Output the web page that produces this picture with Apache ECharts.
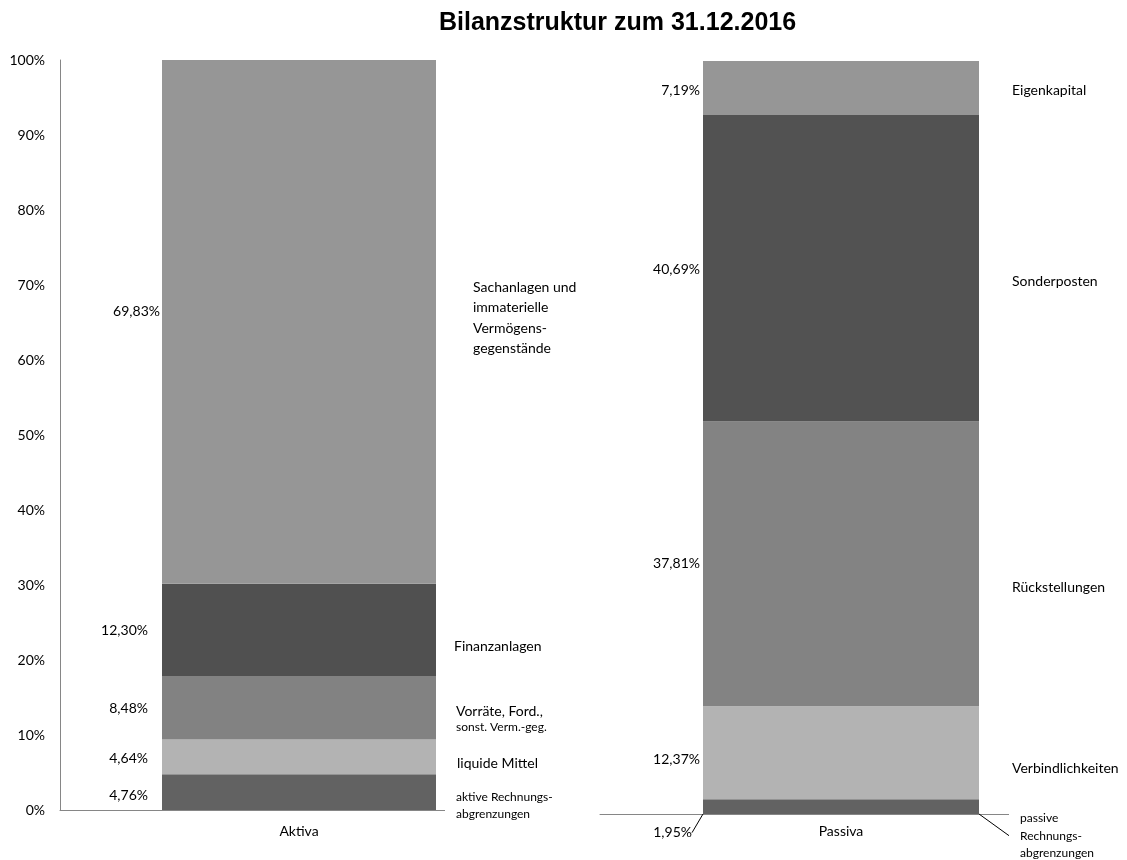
<!DOCTYPE html>
<html>
<head>
<meta charset="utf-8">
<title>Bilanzstruktur</title>
<script src="https://cdn.jsdelivr.net/npm/echarts@6/dist/echarts.min.js"></script>
<style>
  html, body { margin: 0; padding: 0; background: #fff; }
  #chart { width: 1127px; height: 860px; }
</style>
</head>
<body>
<div id="chart"></div>
<script>
// Werte von unten nach oben gestapelt
var aktivaCategory = ['Aktiva'];
var aktivaNames = ['aktive Rechnungs-\nabgrenzungen', 'liquide Mittel', 'Vorräte, Ford.,\nsonst. Verm.-geg.', 'Finanzanlagen', 'Sachanlagen und\nimmaterielle\nVermögens-\ngegenstände'];
var aktivaValues = [4.76, 4.64, 8.48, 12.30, 69.83];

var passivaCategory = ['Passiva'];
var passivaNames = ['passive\nRechnungs-\nabgrenzungen', 'Verbindlichkeiten', 'Rückstellungen', 'Sonderposten', 'Eigenkapital'];
var passivaValues = [1.95, 12.37, 37.81, 40.69, 7.19];

var yTicks = [0, 10, 20, 30, 40, 50, 60, 70, 80, 90, 100];

var aktivaColors = ['#626262', '#b3b3b3', '#828282', '#505050', '#969696'];
var passivaColors = ['#626262', '#b3b3b3', '#838383', '#525252', '#969696'];

var font = 'Lato';
var aktivaBarWidth = 274;
var passivaBarWidth = 276;

function pct(v) {
  return v.toFixed(2).replace('.', ',') + '%';
}

// Offsets der Beschriftungen [dx, dy]
var aktivaValOffset = [[0, 3], [0, 2], [0, 1], [0, 1], [12, -10]];
var aktivaNameOffset = [[0, 13], [1, 7], [0, 11], [-2, 17], [17, -4]];
var passivaValOffset = [[0, 0], [0, 7], [0, 0], [0, 1], [0, 2]];
var passivaNameOffset = [[0, 0], [0, 16], [0, 24], [0, 13], [0, 2]];

var series = [];

aktivaValues.forEach(function (v, i) {
  series.push({
    name: aktivaNames[i],
    type: 'bar',
    stack: 'aktiva',
    xAxisIndex: 0,
    yAxisIndex: 0,
    barWidth: aktivaBarWidth,
    data: [v],
    itemStyle: { color: aktivaColors[i] },
    label: {
      show: true,
      position: 'left',
      distance: 14,
      offset: aktivaValOffset[i],
      formatter: function (p) { return pct(p.value); },
      color: '#000',
      fontFamily: font,
      fontSize: 14
    }
  });
  var small = (i === 0);
  series.push({
    name: aktivaNames[i] + ' (Text)',
    type: 'bar',
    stack: 'aktivaText',
    xAxisIndex: 1,
    yAxisIndex: 0,
    barWidth: aktivaBarWidth,
    data: [v],
    itemStyle: { color: 'rgba(0,0,0,0)' },
    z: 5,
    label: {
      show: true,
      position: 'right',
      distance: small ? 9 : 20,
      offset: aktivaNameOffset[i],
      formatter: i === 2 ? '{a|Vorräte, Ford.,}\n{b|sonst. Verm.-geg.}' : aktivaNames[i],
      color: '#000',
      fontFamily: font,
      fontSize: small ? 12 : 14,
      lineHeight: small ? 17 : 20.5,
      backgroundColor: small ? '#fff' : 'transparent',
      padding: small ? [2, 40, 2, 11] : 0,
      rich: {
        a: { fontFamily: font, fontSize: 14, lineHeight: 17 },
        b: { fontFamily: font, fontSize: 12, lineHeight: 15 }
      }
    }
  });
});

passivaValues.forEach(function (v, i) {
  var first = (i === 0);
  series.push({
    name: passivaNames[i],
    type: 'bar',
    stack: 'passiva',
    xAxisIndex: 2,
    yAxisIndex: 1,
    barWidth: passivaBarWidth,
    data: [v],
    itemStyle: { color: passivaColors[i] },
    label: {
      show: true,
      position: 'left',
      distance: 3,
      offset: passivaValOffset[i],
      formatter: function (p) { return pct(p.value); },
      color: '#000',
      fontFamily: font,
      fontSize: 14
    },
    // kleinster Wert: unter den Balken geschoben, mit Hinweislinie
    labelLayout: first ? { dx: -8, dy: 26 } : null,
    labelLine: first ? { show: true, lineStyle: { color: '#000', width: 1 } } : { show: false }
  });
  series.push({
    name: passivaNames[i] + ' (Text)',
    type: 'bar',
    stack: 'passivaText',
    xAxisIndex: 3,
    yAxisIndex: 1,
    barWidth: passivaBarWidth,
    data: [v],
    itemStyle: { color: 'rgba(0,0,0,0)' },
    z: 5,
    label: {
      show: true,
      position: 'right',
      distance: first ? 30 : 33,
      offset: passivaNameOffset[i],
      formatter: passivaNames[i],
      color: '#000',
      fontFamily: font,
      fontSize: first ? 12 : 14,
      lineHeight: first ? 17.5 : 20,
      backgroundColor: first ? '#fff' : 'transparent',
      padding: first ? [4, 20, 4, 11] : 0
    },
    labelLayout: first ? { dy: 29 } : null,
    labelLine: first ? { show: true, lineStyle: { color: '#000', width: 1 } } : { show: false }
  });
});

var chart = echarts.init(document.getElementById('chart'));
chart.setOption({
  animation: false,
  title: {
    text: 'Bilanzstruktur zum 31.12.2016',
    left: 434,
    top: 6,
    textStyle: { fontFamily: 'Liberation Sans', fontWeight: 'bold', fontSize: 25, color: '#000' }
  },
  grid: [
    { left: 60, width: 478, top: 60, height: 750 },
    { left: 600, width: 482, top: 61, height: 753 }
  ],
  xAxis: [
    {
      type: 'category', gridIndex: 0, data: aktivaCategory,
      axisLine: { lineStyle: { color: '#868686' } },
      axisTick: { show: false },
      axisLabel: { color: '#000', fontFamily: font, fontSize: 14, margin: 14 }
    },
    { type: 'category', gridIndex: 0, data: aktivaCategory, show: false },
    {
      type: 'category', gridIndex: 1, data: passivaCategory,
      axisLine: { lineStyle: { color: '#868686' } },
      axisTick: { show: false },
      axisLabel: { color: '#000', fontFamily: font, fontSize: 14, margin: 10 }
    },
    { type: 'category', gridIndex: 1, data: passivaCategory, show: false }
  ],
  yAxis: [
    {
      type: 'value', gridIndex: 0, min: yTicks[0], max: yTicks[yTicks.length - 1], interval: 10,
      axisLine: { show: true, lineStyle: { color: '#868686' } },
      axisTick: { show: false },
      splitLine: { show: false },
      axisLabel: { formatter: '{value}%', color: '#000', fontFamily: font, fontSize: 14, margin: 15 }
    },
    {
      type: 'value', gridIndex: 1, min: 0, max: 100, show: false,
      splitLine: { show: false }
    }
  ],
  series: series
});
</script>
</body>
</html>
